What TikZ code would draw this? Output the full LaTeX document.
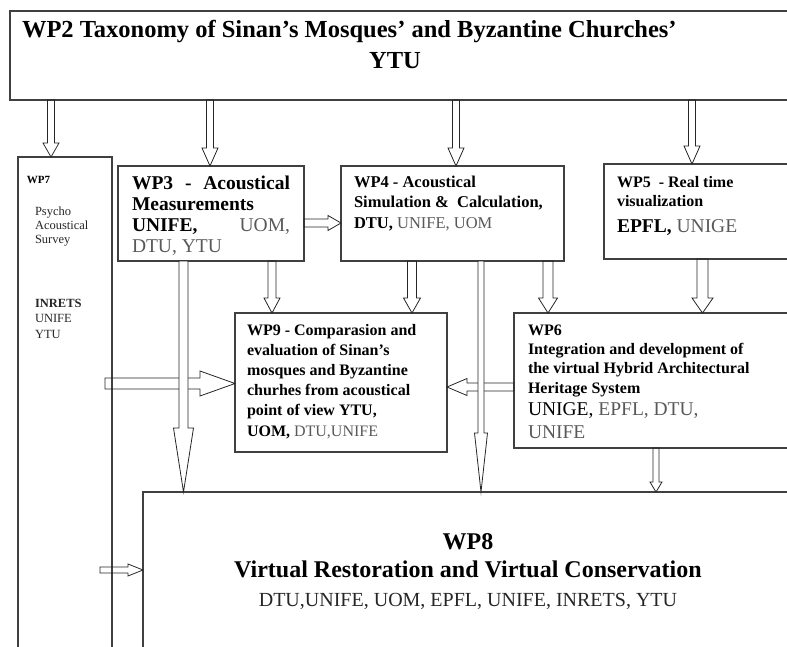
\documentclass[tikz,border=0pt]{standalone}
\usepackage{fontspec}
\setmainfont{Liberation Serif}
\usetikzlibrary{calc}
\newcommand\rgtxt[1]{{\mdseries\color{black!65}#1}}
\newcommand\fsz[2]{\fontsize{#1}{#2}\selectfont}
\tikzset{
  box/.style={draw=black!75, line width=1.3pt, anchor=north west, inner sep=0pt, outer sep=0pt, minimum width=#1},
  txt/.style={anchor=base west, inner sep=0pt, outer sep=0pt, align=left},
  arr/.style={draw=black!85, line width=0.8pt, line join=miter},
  barr/.style n args={3}{to path={
    (\tikztostart) coordinate (bS) (\tikztotarget) coordinate (bT)
    ($(bT)!#3!(bS)$) coordinate (bH)
    ($(bS)!#1!90:(bT)$) -- ($(bH)!#1!90:(bT)$) -- ($(bH)!#2!90:(bT)$) -- (bT)
    -- ($(bH)!#2!-90:(bT)$) -- ($(bH)!#1!-90:(bT)$) -- ($(bS)!#1!-90:(bT)$) -- cycle
  }},
}
\begin{document}
\begin{tikzpicture}[x=1pt,y=-1pt]
\useasboundingbox (0,0) rectangle (787,646);
\clip (0,0) rectangle (787,646);
% boxes
\node[box=790pt, minimum height=89pt] (wp2) at (10,11) {};
\node[box=94pt, minimum height=503pt] (wp7) at (18,157) {};
\node[box=186pt, minimum height=95pt] (wp3) at (118,166) {};
\node[box=223pt, minimum height=95pt] (wp4) at (341,166) {};
\node[box=196pt, minimum height=95pt] (wp5) at (604,164) {};
\node[box=212pt, minimum height=139pt] (wp9) at (235,313) {};
\node[box=286pt, minimum height=135pt] (wp6) at (514,313) {};
\node[box=657pt, minimum height=168pt] (wp8) at (143,492) {};
% texts (multi-line nodes: anchor = baseline of the last line)
\node[txt, font=\fsz{24.5}{28}\bfseries] (t2a) at (22,37) {WP2 Taxonomy of Sinan’s Mosques’ and Byzantine Churches’};
\node[txt, anchor=base, font=\fsz{24.5}{28}\bfseries] (t2b) at (395,68) {YTU};
\node[txt, font=\fsz{11}{14}\bfseries] (t7a) at (27,183) {WP7};
\node[txt, font=\fsz{12.5}{14.2}, text=black!85] (t7b) at (35,243.4) {Psycho\\Acoustical\\Survey};
\node[txt, font=\fsz{12.5}{15.5}, text=black!85] (t7c) at (35,338) {\textbf{INRETS}\\UNIFE\\YTU};
\node[txt, font=\fsz{19.5}{21}\bfseries] (t3) at (132,252) {%
  \makebox[158pt][s]{WP3 - Acoustical}\\Measurements\\\makebox[158pt][s]{UNIFE, \rgtxt{UOM,}}\\\rgtxt{DTU, YTU}};
\node[txt, font=\fsz{16.5}{20.5}\bfseries] (t4) at (354,228) {%
  WP4 - Acoustical\\Simulation \&\ \ Calculation,\\DTU, \rgtxt{UNIFE, UOM}};
\node[txt, font=\fsz{16}{19}\bfseries] (t5a) at (617,206) {WP5\ \ - Real time\\visualization};
\node[txt, font=\fsz{19.5}{22}\bfseries] (t5b) at (617,232) {EPFL, \rgtxt{UNIGE}};
\node[txt, font=\fsz{16}{20.2}\bfseries] (t9) at (247,436) {%
  WP9 - Comparasion and\\evaluation of Sinan’s\\mosques and Byzantine\\churhes from acoustical\\point of view YTU,\\UOM, \rgtxt{DTU,UNIFE}};
\node[txt, font=\fsz{16}{19.3}\bfseries] (t6a) at (528,393) {%
  WP6\\Integration and development of\\the virtual Hybrid Architectural\\Heritage System};
\node[txt, font=\fsz{19.5}{23}] (t6b) at (528,438) {UNIGE, \rgtxt{EPFL, DTU,}\\\rgtxt{UNIFE}};
\node[txt, anchor=base, font=\fsz{24}{28}\bfseries] (t8a) at (468,549) {WP8};
\node[txt, anchor=base, font=\fsz{24}{28}\bfseries] (t8b) at (468,577) {Virtual Restoration and Virtual Conservation};
\node[txt, anchor=base, font=\fsz{20}{24}, text=black!85] (t8c) at (468,606) {DTU,UNIFE, UOM, EPFL, UNIFE, INRETS, YTU};
% x / y reference coordinates
\coordinate (xa) at (51,0);
\coordinate (xb) at (210,0);
\coordinate (xc) at (456,0);
\coordinate (xd) at (692,0);
\coordinate (xe) at (272,0);
\coordinate (xf) at (412,0);
\coordinate (xg) at (548,0);
\coordinate (xh) at (702.5,0);
\coordinate (xi) at (183.5,0);
\coordinate (xj) at (481,0);
\coordinate (xk) at (656,0);
\coordinate (ya) at (0,223);
\coordinate (yb) at (0,387);
\coordinate (s79) at (105,383.5);
\coordinate (s78) at (100,570);
% horizontal arrows
\draw[arr] (wp3.east |- ya) to[barr={4pt}{7.5pt}{13pt}] (wp4.west |- ya);
\draw[arr] (s79) to[barr={5.5pt}{12.5pt}{35pt}] (wp9.west |- s79);
\draw[arr] (wp6.west |- yb) to[barr={4pt}{8.5pt}{20pt}] (wp9.east |- yb);
\draw[arr] (s78) to[barr={3pt}{6pt}{15pt}] (wp8.west |- s78);
% vertical arrows
\draw[arr] (wp2.south -| xa) to[barr={3.5pt}{8pt}{14pt}] (wp7.north -| xa);
\draw[arr] (wp2.south -| xb) to[barr={3.5pt}{8pt}{18pt}] (wp3.north -| xb);
\draw[arr] (wp2.south -| xc) to[barr={3.5pt}{8pt}{18pt}] (wp4.north -| xc);
\draw[arr] (wp2.south -| xd) to[barr={3.5pt}{8pt}{18pt}] (wp5.north -| xd);
\draw[arr] (wp3.south -| xe) to[barr={4pt}{8pt}{15pt}] (wp9.north -| xe);
\draw[arr] (wp4.south -| xf) to[barr={4.5pt}{8.5pt}{15pt}] (wp9.north -| xf);
\draw[arr] (wp4.south -| xg) to[barr={5pt}{9.5pt}{15pt}] (wp6.north -| xg);
\draw[arr] (wp5.south -| xh) to[barr={5.5pt}{10.5pt}{15pt}] (wp6.north -| xh);
\draw[arr] (wp6.south -| xk) to[barr={3pt}{6pt}{10pt}] (wp8.north -| xk);
\draw[arr, fill=white] (wp3.south -| xi) to[barr={4.5pt}{10pt}{64pt}] (wp8.north -| xi);
\draw[arr, fill=white] (wp4.south -| xj) to[barr={3pt}{6.5pt}{59pt}] (wp8.north -| xj);
\end{tikzpicture}
\end{document}
